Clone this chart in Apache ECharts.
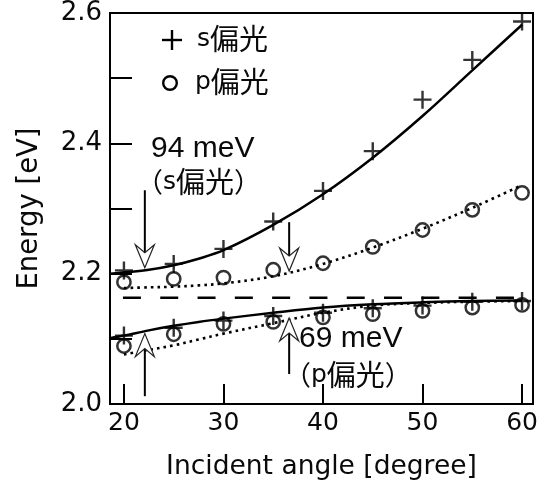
<!DOCTYPE html>
<html>
<head>
<meta charset="utf-8">
<script src="https://cdn.jsdelivr.net/npm/echarts@6/dist/echarts.min.js"></script>
<style>
html,body{margin:0;padding:0;background:#fff;}
#chart{width:543px;height:489px;}
</style>
</head>
<body>
<div id="chart"></div>
<script>
// ---- data ----
const angles = [20, 25, 30, 35, 40, 45, 50, 55, 60];
const sUpper = [2.205, 2.215, 2.238, 2.280, 2.327, 2.388, 2.467, 2.528, 2.587];
const sLower = [2.105, 2.117, 2.128, 2.135, 2.140, 2.147, 2.151, 2.157, 2.158];
const pUpper = [2.187, 2.192, 2.194, 2.206, 2.216, 2.241, 2.267, 2.298, 2.324];
const pLower = [2.089, 2.107, 2.123, 2.126, 2.133, 2.138, 2.143, 2.148, 2.152];

const sFitAngles = [18.6, 20, 22.5, 25, 27.5, 30, 35, 40, 45, 50, 55, 60];
const sFitUpper = [2.200, 2.202, 2.206, 2.213, 2.223, 2.236, 2.275, 2.322, 2.378, 2.442, 2.512, 2.582];
const sFitLower = [2.101, 2.105, 2.113, 2.120, 2.126, 2.131, 2.140, 2.148, 2.153, 2.156, 2.158, 2.159];
const pFitAngles = [20, 22.5, 25, 27.5, 30, 35, 40, 45, 50, 55, 60];
const pFitUpper = [2.178, 2.179, 2.180, 2.182, 2.185, 2.196, 2.215, 2.240, 2.269, 2.301, 2.336];
const pFitLower = [2.076, 2.083, 2.090, 2.099, 2.108, 2.124, 2.140, 2.151, 2.155, 2.157, 2.158];

const excitonAngles = [19.9, 60];
const excitonEnergy = [2.163, 2.163];

// arrows: x angle, start energy, tip energy
const arrowX = [22.1, 22.1, 36.6, 36.6];
const arrowFrom = [2.328, 2.012, 2.279, 2.046];
const arrowTo = [2.209, 2.108, 2.204, 2.132];

const xTicks = [20, 30, 40, 50, 60];
const yTicks = [2.0, 2.1, 2.2, 2.3, 2.4, 2.5, 2.6];
const yLabels = [2.0, 2.2, 2.4, 2.6];

const seriesNames = ['s偏光', 'p偏光'];

// ---- build ----
const zip = (xs, ys) => xs.map((x, i) => [x, ys[i]]);
const TXT = '#0a0a0a';
const LAT = 'DejaVu Sans';
const CJK = 'Noto Sans CJK JP';

const crossPath = 'path://M-1.2,-9L1.2,-9L1.2,-1.2L9,-1.2L9,1.2L1.2,1.2L1.2,9L-1.2,9L-1.2,1.2L-9,1.2L-9,-1.2L-1.2,-1.2Z';

function richName(prefix, name, suffix) {
  return (prefix ? '{c|' + prefix + '}' : '') + '{l|' + name[0] + '}{k|' + name.slice(1) + '}' + (suffix ? '{c|' + suffix + '}' : '');
}
const richStyle = {
  l: { fontFamily: LAT, fontSize: 25, fill: TXT },
  k: { fontFamily: CJK, fontSize: 29, fill: TXT },
  c: { fontFamily: CJK, fontSize: 27, fill: TXT }
};

const chart = echarts.init(document.getElementById('chart'), null, { renderer: 'canvas' });

const fitLine = (xs, ys, dotted) => ({
  type: 'line', data: zip(xs, ys), showSymbol: false, smooth: 0.35, silent: true, z: 2,
  lineStyle: dotted ? { color: '#000', width: 2.6, type: [2.6, 4.1] } : { color: '#000', width: 2.5 }
});

const option = {
  animation: false,
  backgroundColor: '#fff',
  grid: { left: 110, right: 10, top: 13, bottom: 85, show: true, borderColor: '#000', borderWidth: 2, backgroundColor: 'transparent' },
  xAxis: {
    type: 'value', min: 18.6, max: 61.1,
    name: 'Incident angle [degree]', nameLocation: 'middle', nameGap: 50,
    nameTextStyle: { fontFamily: LAT, fontSize: 26.5, color: TXT },
    axisLine: { show: true, lineStyle: { color: '#000', width: 2 } },
    axisTick: { show: true, inside: true, length: 20, customValues: xTicks, lineStyle: { color: '#000', width: 2 } },
    axisLabel: { customValues: xTicks, fontFamily: LAT, fontSize: 25, color: TXT, margin: 7 },
    splitLine: { show: false }
  },
  yAxis: {
    type: 'value', min: 2.0, max: 2.6,
    name: 'Energy [eV]', nameLocation: 'middle', nameGap: 66,
    nameTextStyle: { fontFamily: LAT, fontSize: 27.5, color: TXT },
    axisLine: { show: true, lineStyle: { color: '#000', width: 2 } },
    axisTick: { show: true, inside: true, length: 22, customValues: yTicks, lineStyle: { color: '#000', width: 2 } },
    axisLabel: { customValues: yLabels, formatter: v => v.toFixed(1), fontFamily: LAT, fontSize: 26, color: TXT, margin: 8 },
    splitLine: { show: false }
  },
  series: [
    { type: 'line', data: zip(excitonAngles, excitonEnergy), showSymbol: false, silent: true, z: 2,
      lineStyle: { color: '#000', width: 2.6, type: [18, 19.3] } },
    fitLine(sFitAngles, sFitUpper, false),
    fitLine(sFitAngles, sFitLower, false),
    fitLine(pFitAngles, pFitUpper, true),
    fitLine(pFitAngles, pFitLower, true),
    { name: seriesNames[1], type: 'scatter', z: 3,
      data: zip(angles, pUpper).concat(zip(angles, pLower)),
      symbol: 'circle', symbolSize: 13.3,
      itemStyle: { color: 'rgba(255,255,255,0)', borderColor: '#000', borderWidth: 2.5 } },
    { name: seriesNames[0], type: 'scatter', z: 4,
      data: zip(angles, sUpper).concat(zip(angles, sLower)),
      symbol: crossPath, symbolSize: 18,
      itemStyle: { color: '#000' } },
    { type: 'custom', z: 5, silent: true,
      data: arrowX.map((x, i) => [x, arrowFrom[i], arrowTo[i]]),
      renderItem: function (params, api) {
        const x = api.value(0);
        const p0 = api.coord([x, api.value(1)]);
        const p1 = api.coord([x, api.value(2)]);
        const d = p1[1] > p0[1] ? 1 : -1;
        const L = 23, W = 9.5, N = 15;
        const tx = p1[0], ty = p1[1];
        return {
          type: 'group',
          children: [
            { type: 'line', shape: { x1: p0[0], y1: p0[1], x2: tx, y2: ty - d * N },
              style: { stroke: '#000', lineWidth: 2 } },
            { type: 'polygon',
              shape: { points: [[tx, ty], [tx - W, ty - d * L], [tx, ty - d * N], [tx + W, ty - d * L]] },
              style: { fill: '#fff', stroke: '#222', lineWidth: 1.2 } }
          ]
        };
      }
    }
  ],
  graphic: [
    // legend
    { type: 'line', shape: { x1: 162, y1: 40, x2: 182, y2: 40 }, style: { stroke: '#000', lineWidth: 2.4 } },
    { type: 'line', shape: { x1: 172, y1: 30, x2: 172, y2: 50 }, style: { stroke: '#000', lineWidth: 2.4 } },
    { type: 'circle', shape: { cx: 170, cy: 83, r: 6.8 }, style: { fill: 'none', stroke: '#000', lineWidth: 2.4 } },
    { type: 'text', x: 197, y: 39, style: { text: richName('', seriesNames[0], ''), rich: richStyle, verticalAlign: 'middle' } },
    { type: 'text', x: 195, y: 82, style: { text: richName('', seriesNames[1], ''), rich: richStyle, verticalAlign: 'middle' } },
    // annotations
    { type: 'text', x: 151, y: 149, style: { text: '94 meV', fontFamily: 'Liberation Sans', fontSize: 30, fill: TXT, verticalAlign: 'middle' } },
    { type: 'text', x: 136, y: 182, style: { text: richName('（', seriesNames[0], '）'), rich: richStyle, verticalAlign: 'middle' } },
    { type: 'text', x: 299, y: 339, style: { text: '69 meV', fontFamily: 'Liberation Sans', fontSize: 30, fill: TXT, verticalAlign: 'middle' } },
    { type: 'text', x: 284, y: 375, style: { text: richName('（', seriesNames[1], '）'), rich: richStyle, verticalAlign: 'middle' } }
  ]
};
chart.setOption(option);
</script>
</body>
</html>
